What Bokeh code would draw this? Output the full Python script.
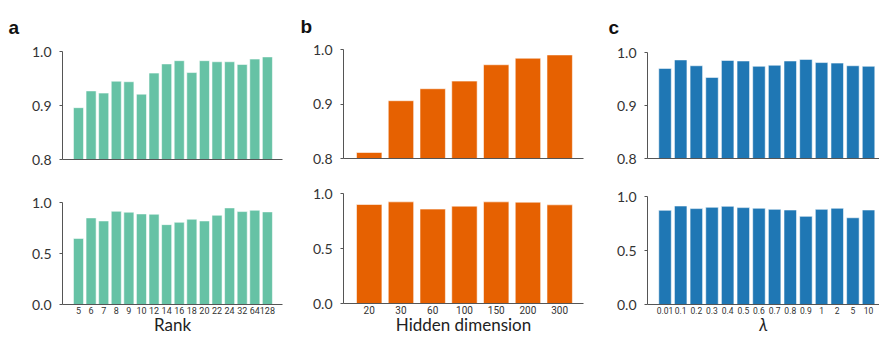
from bokeh.plotting import figure
from bokeh.layouts import row, column
from bokeh.models import FixedTicker
from bokeh.embed import file_html
from bokeh.resources import INLINE

# ---------------- data ----------------
rank_labels = ["5", "6", "7", "8", "9", "10", "12", "14", "16", "18", "20", "22", "24", "32", "64", "128"]
rank_top = [0.896, 0.927, 0.923, 0.945, 0.944, 0.921, 0.960, 0.977, 0.983, 0.961,
            0.983, 0.981, 0.981, 0.976, 0.986, 0.990]
rank_bottom = [0.648, 0.849, 0.819, 0.914, 0.905, 0.888, 0.885, 0.783, 0.806, 0.836,
               0.819, 0.875, 0.947, 0.911, 0.924, 0.908]

hidden_labels = ["20", "30", "60", "100", "150", "200", "300"]
hidden_top = [0.811, 0.906, 0.928, 0.942, 0.972, 0.984, 0.990]
hidden_bottom = [0.900, 0.924, 0.858, 0.885, 0.924, 0.921, 0.897]

lambda_labels = ["0.01", "0.1", "0.2", "0.3", "0.4", "0.5", "0.6", "0.7", "0.8", "0.9", "1", "2", "5", "10"]
lambda_top = [0.970, 0.986, 0.975, 0.953, 0.985, 0.984, 0.974, 0.976, 0.984, 0.987,
              0.981, 0.980, 0.975, 0.974]
lambda_bottom = [0.872, 0.912, 0.888, 0.900, 0.909, 0.897, 0.891, 0.881, 0.875, 0.816,
                 0.881, 0.891, 0.803, 0.875]

top_ticks = [0.8, 0.9, 1.0]
top_tick_labels = ["0.8", "0.9", "1.0"]
bottom_ticks = [0.0, 0.5, 1.0]
bottom_tick_labels = ["0.0", "0.5", "1.0"]

COL_A = "#66c2a5"
COL_B = "#e66101"
COL_C = "#1f77b4"
AXIS_COL = "#555555"
TXT_COL = "#333333"
FONT = "Lato"
SMALL = "Roboto"


def style(p, yticks, ylabels):
    p.grid.visible = False
    p.outline_line_color = None
    p.background_fill_color = None
    p.border_fill_color = None
    ya = p.yaxis[0]
    ya.ticker = FixedTicker(ticks=yticks)
    ya.major_label_overrides = {t: l for t, l in zip(yticks, ylabels)}
    ya.major_tick_in = 0
    ya.major_tick_out = 3
    ya.minor_tick_in = 0
    ya.minor_tick_out = 0
    ya.axis_line_color = AXIS_COL
    ya.major_tick_line_color = AXIS_COL
    ya.major_label_standoff = 8
    ya.major_label_text_font = FONT
    ya.major_label_text_font_size = "14px"
    ya.major_label_text_color = TXT_COL
    xa = p.xaxis[0]
    xa.axis_line_color = AXIS_COL
    xa.major_tick_in = 0
    xa.major_tick_out = 0
    xa.minor_tick_in = 0
    xa.minor_tick_out = 0


def make_panel(letter, labels, top_vals, bottom_vals, color, xlabel, xr, frame_w,
               bl, br, top_frame_top, top_frame_bottom, bottom_frame_top,
               label_font_size="9px", italic=False):
    n = len(labels)
    xs = list(range(n))
    fig_w = bl + frame_w + br
    # top figure
    pt = figure(width=fig_w, height=170, x_range=xr, y_range=(0.8, 1.0),
                output_backend="svg", toolbar_location=None,
                min_border_left=bl, min_border_right=br,
                min_border_top=top_frame_top, min_border_bottom=170 - top_frame_bottom,
                title=letter)
    pt.vbar(x=xs, top=top_vals, bottom=0.8, width=0.8, fill_color=color,
            line_color="white", line_alpha=0.55, line_width=1)
    style(pt, top_ticks, top_tick_labels)
    pt.xaxis[0].ticker = FixedTicker(ticks=[])
    pt.title.text_font = "Liberation Sans"
    pt.title.text_font_style = "bold"
    pt.title.text_font_size = "19px"
    pt.title.text_color = "#111111"
    pt.title.align = "left"
    pt.title.offset = -(bl - 8)
    pt.title.standoff = top_frame_top - 23

    # bottom figure
    pb = figure(width=fig_w, height=167, x_range=xr, y_range=(0.0, 1.0),
                output_backend="svg", toolbar_location=None,
                min_border_left=bl, min_border_right=br,
                min_border_top=bottom_frame_top - 170, min_border_bottom=20)
    pb.vbar(x=xs, top=bottom_vals, bottom=0.0, width=0.8, fill_color=color,
            line_color="white", line_alpha=0.55, line_width=1)
    style(pb, bottom_ticks, bottom_tick_labels)
    xa = pb.xaxis[0]
    xa.ticker = FixedTicker(ticks=xs)
    xa.major_label_overrides = {i: l for i, l in enumerate(labels)}
    xa.major_label_standoff = 2
    xa.major_label_text_font = SMALL
    xa.major_label_text_font_size = label_font_size
    xa.major_label_text_color = TXT_COL
    xa.axis_label = xlabel
    xa.axis_label_text_font = FONT
    xa.axis_label_text_font_size = "17px"
    xa.axis_label_text_font_style = "italic" if italic else "normal"
    xa.axis_label_text_color = "#222222"
    xa.axis_label_standoff = -3
    return column(pt, pb, spacing=0)


col_a = make_panel("a", rank_labels, rank_top, rank_bottom, COL_A, "Rank",
                   (-1.27, 16.2), 220, 62, 10, 51, 159, 202, label_font_size="9px")
col_b = make_panel("b", hidden_labels, hidden_top, hidden_bottom, COL_B, "Hidden dimension",
                   (-0.81, 6.75), 240, 51, 17, 49, 158, 193, label_font_size="10px")
col_c = make_panel("c", lambda_labels, lambda_top, lambda_bottom, COL_C, "λ",
                   (-1.12, 13.7), 232, 47, 0, 52, 158, 196, label_font_size="8.5px",
                   italic=True)

layout = row(col_a, col_b, col_c, spacing=0)

open("out.html", "w").write(file_html(layout, INLINE))
